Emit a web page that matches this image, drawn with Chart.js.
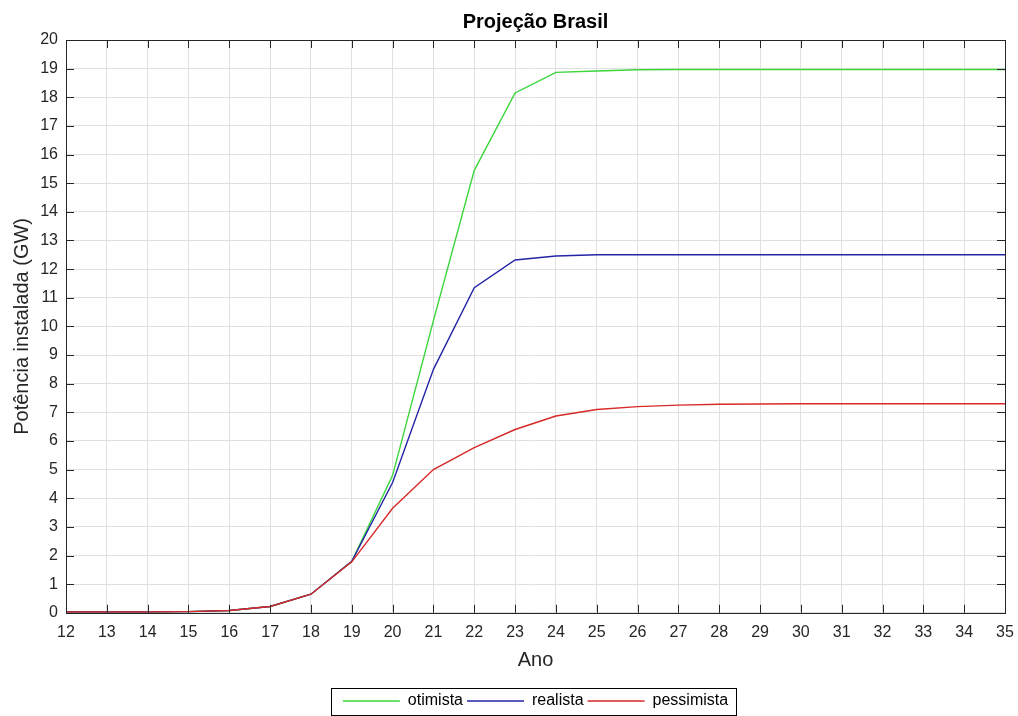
<!DOCTYPE html>
<html>
<head>
<meta charset="utf-8">
<script src="https://cdn.jsdelivr.net/npm/chart.js@4"></script>
<style>
  html, body { margin: 0; padding: 0; background: #fff; }
  #wrap { width: 1018px; height: 716px; }
</style>
</head>
<body>
<div id="wrap"><canvas id="chart" width="1018" height="716"></canvas></div>
<script>
const anos = [12, 13, 14, 15, 16, 17, 18, 19, 20, 21, 22, 23, 24, 25, 26, 27, 28, 29, 30, 31, 32, 33, 34, 35];
const otimista = [0.03, 0.03, 0.03, 0.04, 0.08, 0.22, 0.65, 1.8, 4.8, 10.2, 15.45, 18.15, 18.87, 18.92, 18.96, 18.97, 18.97, 18.97, 18.97, 18.97, 18.97, 18.97, 18.97, 18.97];
const realista = [0.03, 0.03, 0.03, 0.04, 0.08, 0.22, 0.65, 1.8, 4.55, 8.5, 11.35, 12.32, 12.46, 12.5, 12.5, 12.5, 12.5, 12.5, 12.5, 12.5, 12.5, 12.5, 12.5, 12.5];
const pessimista = [0.03, 0.03, 0.03, 0.04, 0.08, 0.22, 0.65, 1.78, 3.65, 5.0, 5.77, 6.4, 6.87, 7.1, 7.2, 7.25, 7.28, 7.29, 7.3, 7.3, 7.3, 7.3, 7.3, 7.3];

const cores = ["#3ad63a", "#2424a8", "#d82828"];

const toPoints = (vals) => vals.map((v, i) => ({ x: anos[i], y: v }));
const font = "'Liberation Sans', Arial, sans-serif";
const axisColor = "#262626";

const makeSet = (label, vals, cor, order) => ({
  label: label,
  data: toPoints(vals),
  borderColor: cor,
  backgroundColor: cor,
  pointBorderColor: cor,
  pointBackgroundColor: cor,
  pointBorderWidth: 1.4,
  order: order,
});

// title and legend are centred on the plot area, like matlab does
const centerPlugin = {
  id: "centerOnAxes",
  afterUpdate(chart) {
    const mid = chart.chartArea.left + chart.chartArea.right;
    const tb = chart.titleBlock;
    if (tb) tb.left += mid - (tb.left + tb.right);
    const lg = chart.legend;
    if (lg) {
      const off = mid - (lg.left + lg.right);
      const down = 3;
      lg.left += off;
      lg.top += down;
      lg.bottom += down;
      // hitboxes were already placed, just move them with the legend
      (lg.legendHitBoxes || []).forEach((h) => { h.left += off / 2; h.top += down; });
    }
  },
};

// box around the plot with inward ticks (matlab style)
const boxPlugin = {
  id: "box",
  afterDraw(chart) {
    const { ctx, chartArea: a, scales } = chart;
    ctx.save();
    ctx.strokeStyle = axisColor;
    ctx.lineWidth = 1;
    ctx.strokeRect(Math.round(a.left) + 0.5, Math.round(a.top) + 0.5, Math.round(a.right - a.left), Math.round(a.bottom - a.top));
    const len = 8;
    ctx.beginPath();
    scales.x.ticks.forEach((t) => {
      const px = Math.round(scales.x.getPixelForValue(t.value)) + 0.5;
      ctx.moveTo(px, a.bottom); ctx.lineTo(px, a.bottom - len);
      ctx.moveTo(px, a.top); ctx.lineTo(px, a.top + len);
    });
    scales.y.ticks.forEach((t) => {
      const py = Math.round(scales.y.getPixelForValue(t.value)) + 0.5;
      ctx.moveTo(a.left, py); ctx.lineTo(a.left + len, py);
      ctx.moveTo(a.right, py); ctx.lineTo(a.right - len, py);
    });
    ctx.stroke();
    // legend border around the items only
    const hb = chart.legend && chart.legend.legendHitBoxes;
    if (hb && hb.length) {
      const l = Math.min(...hb.map((h) => h.left)) - 12;
      const r = Math.max(...hb.map((h) => h.left + h.width)) + 8;
      const cy = hb[0].top + hb[0].height / 2;
      ctx.strokeStyle = "#000";
      ctx.strokeRect(Math.round(l) + 0.5, Math.round(cy - 13) + 0.5, Math.round(r - l), 27);
    }
    ctx.restore();
  },
};

new Chart(document.getElementById("chart"), {
  type: "line",
  data: {
    datasets: [
      makeSet("otimista", otimista, cores[0], 2),
      makeSet("realista", realista, cores[1], 1),
      makeSet("pessimista", pessimista, cores[2], 0),
    ],
  },
  options: {
    responsive: false,
    animation: false,
    layout: { padding: { left: 0, right: 13, top: 0, bottom: 0 } },
    elements: {
      point: { radius: 0 },
      line: { borderWidth: 1.4, tension: 0 },
    },
    plugins: {
      tooltip: { enabled: false },
      title: {
        display: true,
        text: "Projeção Brasil",
        color: "#000",
        font: { family: font, size: 20, weight: "bold" },
        padding: { top: 10, bottom: 6 },
      },
      legend: {
        position: "bottom",
        labels: {
          usePointStyle: true,
          pointStyle: "line",
          pointStyleWidth: 57,
          color: "#000",
          font: { family: font, size: 16 },
          padding: 4,
          boxHeight: 16,
          sort: (a, b) => a.datasetIndex - b.datasetIndex,
        },
      },
    },
    scales: {
      x: {
        type: "linear",
        min: 12,
        max: 35,
        ticks: { stepSize: 1, color: axisColor, font: { family: font, size: 16 }, padding: 10, maxRotation: 0 },
        grid: { color: "#e0e0e0", drawTicks: false },
        border: { display: false },
        title: { display: true, text: "Ano", color: axisColor, font: { family: font, size: 20 }, padding: { top: -4, bottom: 14 } },
        afterFit: (scale) => { scale.paddingLeft = 0; scale.paddingRight = 0; },
      },
      y: {
        min: 0,
        max: 20,
        ticks: { stepSize: 1, color: axisColor, font: { family: font, size: 16 }, padding: 8 },
        grid: { color: "#e0e0e0", drawTicks: false },
        border: { display: false },
        title: { display: true, text: "Potência instalada (GW)", color: axisColor, font: { family: font, size: 20 }, padding: { top: 10, bottom: 0 } },
        afterFit: (scale) => { scale.width = 66; },
      },
    },
  },
  plugins: [centerPlugin, boxPlugin],
});
</script>
</body>
</html>
